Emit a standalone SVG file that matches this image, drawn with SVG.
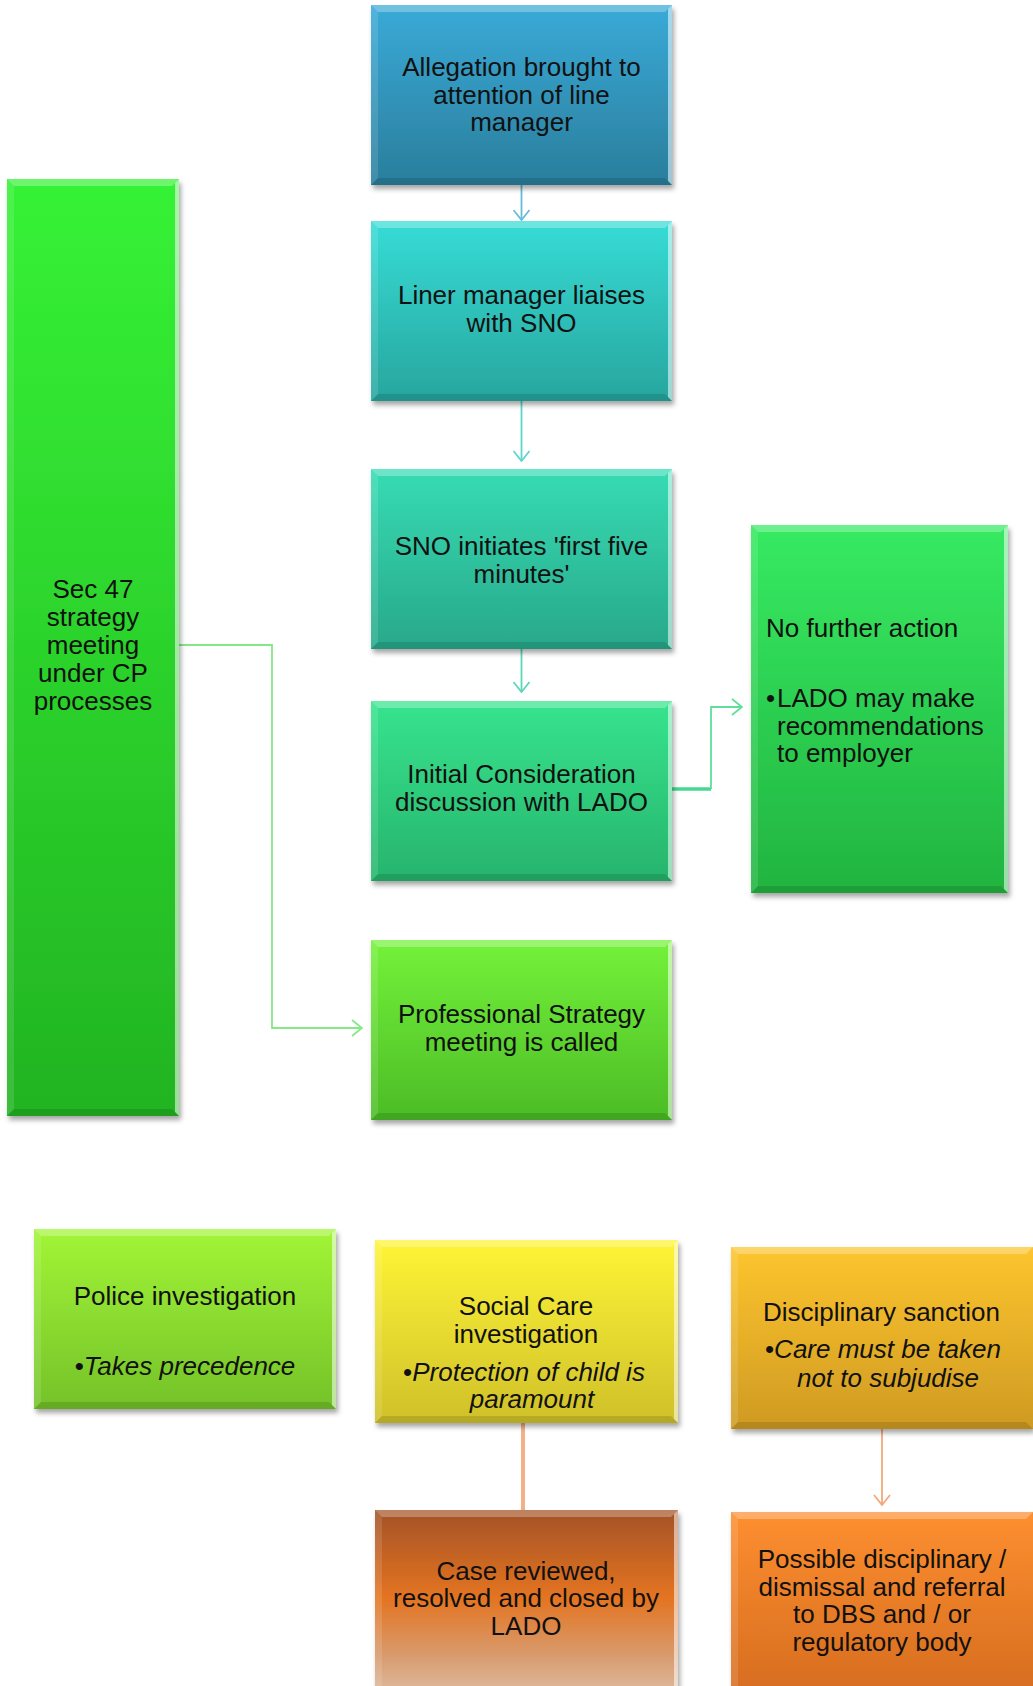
<svg xmlns="http://www.w3.org/2000/svg" width="1033" height="1686" viewBox="0 0 1033 1686">
<style>
  .t { font-family: "Liberation Sans", Arial, sans-serif; font-size: 26px; fill: #111; }
  .c { text-anchor: middle; }
  .i { font-style: italic; }
  .bt { fill: #fff; fill-opacity: 0.28; }
  .bl { fill: #fff; fill-opacity: 0.12; }
  .br { fill: #fff; fill-opacity: 0.55; }
  .bb { fill: #000; fill-opacity: 0.12; }
  .box { filter: url(#sh); }
  .cn { fill: none; stroke-width: 1.8; }
</style>
<defs>
  <filter id="sh" x="-10%" y="-10%" width="125%" height="125%">
    <feDropShadow dx="2" dy="4" stdDeviation="2.5" flood-color="#000" flood-opacity="0.35"/>
  </filter>
  <linearGradient id="g1" x1="0" y1="0" x2="0" y2="1"><stop offset="0" stop-color="#3aaad8"/><stop offset="1" stop-color="#2a7e9c"/></linearGradient>
  <linearGradient id="g2" x1="0" y1="0" x2="0" y2="1"><stop offset="0" stop-color="#36dcd6"/><stop offset="1" stop-color="#27a69e"/></linearGradient>
  <linearGradient id="g3" x1="0" y1="0" x2="0" y2="1"><stop offset="0" stop-color="#36dcb4"/><stop offset="1" stop-color="#28a88a"/></linearGradient>
  <linearGradient id="g4" x1="0" y1="0" x2="0" y2="1"><stop offset="0" stop-color="#36e48e"/><stop offset="1" stop-color="#27b46c"/></linearGradient>
  <linearGradient id="g5" x1="0" y1="0" x2="0" y2="1"><stop offset="0" stop-color="#74f23a"/><stop offset="1" stop-color="#4cbc26"/></linearGradient>
  <linearGradient id="gL" x1="0" y1="0" x2="0" y2="1"><stop offset="0" stop-color="#36f236"/><stop offset="1" stop-color="#22b422"/></linearGradient>
  <linearGradient id="gR" x1="0" y1="0" x2="0" y2="1"><stop offset="0" stop-color="#36ea62"/><stop offset="1" stop-color="#22b440"/></linearGradient>
  <linearGradient id="gP" x1="0" y1="0" x2="0" y2="1"><stop offset="0" stop-color="#a2f535"/><stop offset="1" stop-color="#74c22a"/></linearGradient>
  <linearGradient id="gS" x1="0" y1="0" x2="0" y2="1"><stop offset="0" stop-color="#fff535"/><stop offset="1" stop-color="#cfc02a"/></linearGradient>
  <linearGradient id="gD" x1="0" y1="0" x2="0" y2="1"><stop offset="0" stop-color="#fdc52e"/><stop offset="1" stop-color="#cf9a22"/></linearGradient>
  <linearGradient id="gC" gradientUnits="userSpaceOnUse" x1="0" y1="1510" x2="0" y2="1686"><stop offset="0" stop-color="#a35228"/><stop offset="0.5" stop-color="#e47420"/><stop offset="0.82" stop-color="#d89a6c"/><stop offset="1" stop-color="#dcb494"/></linearGradient>
  <linearGradient id="gQ" gradientUnits="userSpaceOnUse" x1="0" y1="1512" x2="0" y2="1686"><stop offset="0" stop-color="#fd8f30"/><stop offset="1" stop-color="#d86e20"/></linearGradient>
  <marker id="m1" markerUnits="userSpaceOnUse" viewBox="0 0 12 18" refX="11" refY="9" markerWidth="12" markerHeight="18" orient="auto"><path d="M1,1 L11,9 L1,17" fill="none" stroke="#67bcd6" stroke-width="1.8"/></marker>
  <marker id="m2" markerUnits="userSpaceOnUse" viewBox="0 0 12 18" refX="11" refY="9" markerWidth="12" markerHeight="18" orient="auto"><path d="M1,1 L11,9 L1,17" fill="none" stroke="#5ed6d0" stroke-width="1.8"/></marker>
  <marker id="m3" markerUnits="userSpaceOnUse" viewBox="0 0 12 18" refX="11" refY="9" markerWidth="12" markerHeight="18" orient="auto"><path d="M1,1 L11,9 L1,17" fill="none" stroke="#5cd8b8" stroke-width="1.8"/></marker>
  <marker id="m4" markerUnits="userSpaceOnUse" viewBox="0 0 12 18" refX="11" refY="9" markerWidth="12" markerHeight="18" orient="auto"><path d="M1,1 L11,9 L1,17" fill="none" stroke="#5ee09a" stroke-width="1.8"/></marker>
  <marker id="m5" markerUnits="userSpaceOnUse" viewBox="0 0 12 18" refX="11" refY="9" markerWidth="12" markerHeight="18" orient="auto"><path d="M1,1 L11,9 L1,17" fill="none" stroke="#84e884" stroke-width="1.8"/></marker>
  <marker id="m7" markerUnits="userSpaceOnUse" viewBox="0 0 12 18" refX="11" refY="9" markerWidth="12" markerHeight="18" orient="auto"><path d="M1,1 L11,9 L1,17" fill="none" stroke="#f2a878" stroke-width="1.8"/></marker>
</defs>
<rect width="1033" height="1686" fill="#fff"/>

<g id="connectors">
  <path class="cn" d="M521.5,185 V220" stroke="#67bcd6" marker-end="url(#m1)"/>
  <path class="cn" d="M521.5,401 V461" stroke="#5ed6d0" marker-end="url(#m2)"/>
  <path class="cn" d="M521.5,649 V692" stroke="#5cd8b8" marker-end="url(#m3)"/>
  <path d="M672,789 H711" fill="none" stroke="#44d890" stroke-width="3.5"/>
  <path class="cn" d="M711,789 V707 H742" stroke="#5ee09a" marker-end="url(#m4)"/>
  <path class="cn" d="M179,645 H272 V1028 H362" stroke="#84e884" marker-end="url(#m5)"/>
  <path d="M523,1423 V1510" fill="none" stroke="#f4b088" stroke-width="4"/>
  <path class="cn" d="M882,1429 V1505" stroke="#f2a878" marker-end="url(#m7)"/>
</g>

<g id="n-sec47">
  <g class="box"><rect x="7" y="179" width="172" height="937" fill="url(#gL)"/></g>
  <polygon class="bt" points="7,179 179,179 172,186 14,186"/>
  <polygon class="bl" points="7,179 14,186 14,1109 7,1116"/>
  <polygon class="br" points="179,179 179,1116 175,1112 175,183"/>
  <polygon class="bb" points="7,1116 179,1116 172,1109 14,1109"/>
  <text class="t c" x="93" y="598">Sec 47</text>
  <text class="t c" x="93" y="626">strategy</text>
  <text class="t c" x="93" y="654">meeting</text>
  <text class="t c" x="93" y="682">under CP</text>
  <text class="t c" x="93" y="710">processes</text>
</g>

<g id="n-allegation">
  <g class="box"><rect x="371" y="5" width="301" height="180" fill="url(#g1)"/></g>
  <polygon class="bt" points="371,5 672,5 665,12 378,12"/>
  <polygon class="bl" points="371,5 378,12 378,178 371,185"/>
  <polygon class="br" points="672,5 672,185 668,181 668,9"/>
  <polygon class="bb" points="371,185 672,185 665,178 378,178"/>
  <text class="t c" x="521.5" y="76">Allegation brought to</text>
  <text class="t c" x="521.5" y="103.5">attention of line</text>
  <text class="t c" x="521.5" y="131">manager</text>
</g>

<g id="n-liaises">
  <g class="box"><rect x="371" y="221" width="301" height="180" fill="url(#g2)"/></g>
  <polygon class="bt" points="371,221 672,221 665,228 378,228"/>
  <polygon class="bl" points="371,221 378,228 378,394 371,401"/>
  <polygon class="br" points="672,221 672,401 668,397 668,225"/>
  <polygon class="bb" points="371,401 672,401 665,394 378,394"/>
  <text class="t c" x="521.5" y="304">Liner manager liaises</text>
  <text class="t c" x="521.5" y="331.5">with SNO</text>
</g>

<g id="n-sno">
  <g class="box"><rect x="371" y="469" width="301" height="180" fill="url(#g3)"/></g>
  <polygon class="bt" points="371,469 672,469 665,476 378,476"/>
  <polygon class="bl" points="371,469 378,476 378,642 371,649"/>
  <polygon class="br" points="672,469 672,649 668,645 668,473"/>
  <polygon class="bb" points="371,649 672,649 665,642 378,642"/>
  <text class="t c" x="521.5" y="555">SNO initiates 'first five</text>
  <text class="t c" x="521.5" y="582.5">minutes'</text>
</g>

<g id="n-initial">
  <g class="box"><rect x="371" y="701" width="301" height="180" fill="url(#g4)"/></g>
  <polygon class="bt" points="371,701 672,701 665,708 378,708"/>
  <polygon class="bl" points="371,701 378,708 378,874 371,881"/>
  <polygon class="br" points="672,701 672,881 668,877 668,705"/>
  <polygon class="bb" points="371,881 672,881 665,874 378,874"/>
  <text class="t c" x="521.5" y="783">Initial Consideration</text>
  <text class="t c" x="521.5" y="810.5">discussion with LADO</text>
</g>

<g id="n-nfa">
  <g class="box"><rect x="751" y="525" width="257" height="368" fill="url(#gR)"/></g>
  <polygon class="bt" points="751,525 1008,525 1001,532 758,532"/>
  <polygon class="bl" points="751,525 758,532 758,886 751,893"/>
  <polygon class="br" points="1008,525 1008,893 1004,889 1004,529"/>
  <polygon class="bb" points="751,893 1008,893 1001,886 758,886"/>
  <text class="t" x="766" y="637">No further action</text>
  <text class="t" x="766" y="707">•</text>
  <text class="t" x="777" y="707">LADO may make</text>
  <text class="t" x="777" y="734.5">recommendations</text>
  <text class="t" x="777" y="762">to employer</text>
</g>

<g id="n-professional">
  <g class="box"><rect x="371" y="940" width="301" height="180" fill="url(#g5)"/></g>
  <polygon class="bt" points="371,940 672,940 665,947 378,947"/>
  <polygon class="bl" points="371,940 378,947 378,1113 371,1120"/>
  <polygon class="br" points="672,940 672,1120 668,1116 668,944"/>
  <polygon class="bb" points="371,1120 672,1120 665,1113 378,1113"/>
  <text class="t c" x="521.5" y="1023">Professional Strategy</text>
  <text class="t c" x="521.5" y="1050.5">meeting is called</text>
</g>

<g id="n-police">
  <g class="box"><rect x="34" y="1229" width="302" height="180" fill="url(#gP)"/></g>
  <polygon class="bt" points="34,1229 336,1229 329,1236 41,1236"/>
  <polygon class="bl" points="34,1229 41,1236 41,1402 34,1409"/>
  <polygon class="br" points="336,1229 336,1409 332,1405 332,1233"/>
  <polygon class="bb" points="34,1409 336,1409 329,1402 41,1402"/>
  <text class="t c" x="185" y="1305">Police investigation</text>
  <text class="t c" x="185" y="1375">•<tspan class="i">Takes precedence</tspan></text>
</g>

<g id="n-social">
  <g class="box"><rect x="375" y="1240" width="303" height="183" fill="url(#gS)"/></g>
  <polygon class="bt" points="375,1240 678,1240 671,1247 382,1247"/>
  <polygon class="bl" points="375,1240 382,1247 382,1416 375,1423"/>
  <polygon class="br" points="678,1240 678,1423 674,1419 674,1244"/>
  <polygon class="bb" points="375,1423 678,1423 671,1416 382,1416"/>
  <text class="t c" x="526" y="1315">Social Care</text>
  <text class="t c" x="526" y="1342.5">investigation</text>
  <text class="t c" x="524" y="1380.5">•<tspan class="i">Protection of child is</tspan></text>
  <text class="t c i" x="532" y="1408">paramount</text>
</g>

<g id="n-disciplinary">
  <g class="box"><rect x="731" y="1247" width="302" height="182" fill="url(#gD)"/></g>
  <polygon class="bt" points="731,1247 1033,1247 1026,1254 738,1254"/>
  <polygon class="bl" points="731,1247 738,1254 738,1422 731,1429"/>
  <polygon class="bb" points="731,1429 1033,1429 1026,1422 738,1422"/>
  <text class="t c" x="881.5" y="1321">Disciplinary sanction</text>
  <text class="t c" x="883" y="1358">•<tspan class="i">Care must be taken</tspan></text>
  <text class="t c i" x="888" y="1386.5">not to subjudise</text>
</g>

<g id="n-case">
  <g class="box"><rect x="375" y="1510" width="303" height="200" fill="url(#gC)"/></g>
  <polygon class="bt" points="375,1510 678,1510 671,1517 382,1517"/>
  <polygon class="bl" points="375,1510 382,1517 382,1700 375,1700"/>
  <polygon class="br" points="678,1510 678,1700 674,1700 674,1514"/>
  <text class="t c" x="526" y="1579.5">Case reviewed,</text>
  <text class="t c" x="526" y="1607">resolved and closed by</text>
  <text class="t c" x="526" y="1634.5">LADO</text>
</g>

<g id="n-possible">
  <g class="box"><rect x="731" y="1512" width="302" height="200" fill="url(#gQ)"/></g>
  <polygon class="bt" points="731,1512 1033,1512 1026,1519 738,1519"/>
  <polygon class="bl" points="731,1512 738,1519 738,1700 731,1700"/>
  <text class="t c" x="882" y="1568">Possible disciplinary /</text>
  <text class="t c" x="882" y="1595.5">dismissal and referral</text>
  <text class="t c" x="882" y="1623">to DBS and / or</text>
  <text class="t c" x="882" y="1650.5">regulatory body</text>
</g>
</svg>
